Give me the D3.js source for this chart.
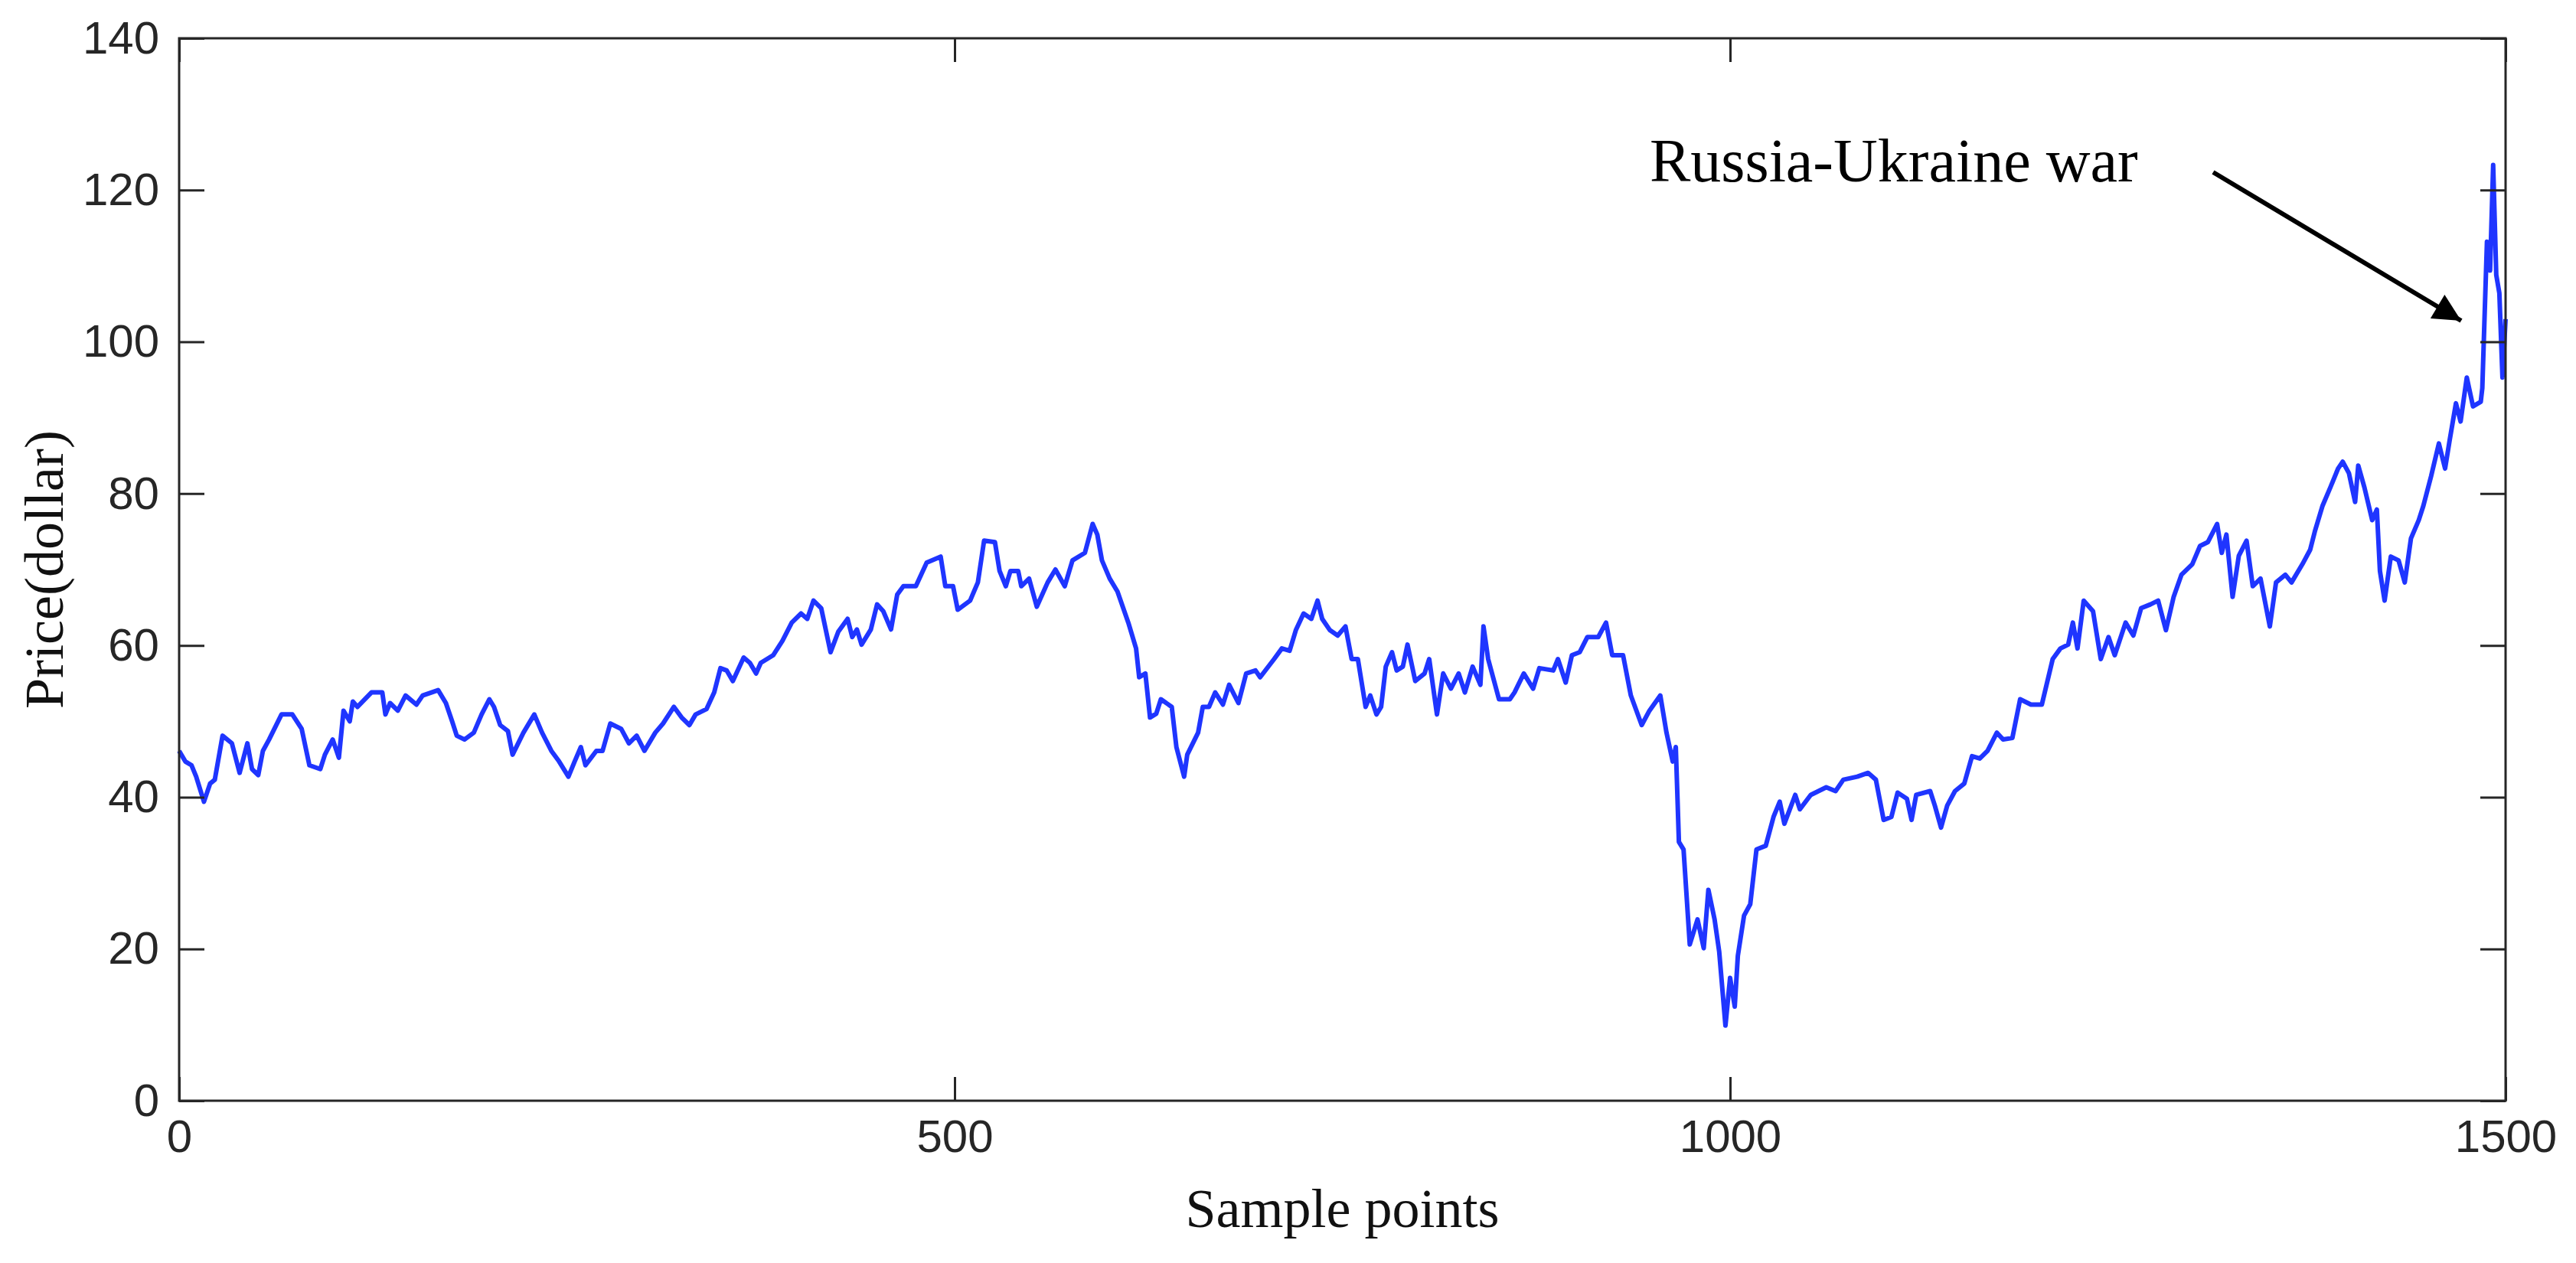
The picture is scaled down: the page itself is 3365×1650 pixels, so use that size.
<!DOCTYPE html>
<html><head><meta charset="utf-8">
<script src="https://cdn.jsdelivr.net/npm/d3@7"></script>
<style>body{margin:0;background:#fff}</style></head>
<body><svg id="c" width="3365" height="1650"></svg>
<script>
const sampleIdx=[0,4,8,11,16,20,23,28,34,39,44,47,51,54,58,66,73,79,84,91,94,99,103,106,110,112,115,124,131,133,136,141,146,153,157,167,172,176,179,184,190,195,200,203,207,212,215,222,229,234,240,245,251,255,259,262,269,273,278,285,290,295,300,307,312,319,324,329,333,340,345,349,353,357,364,368,372,375,383,389,395,401,405,409,414,420,425,431,434,437,440,446,450,454,459,463,467,475,482,491,494,499,502,510,515,519,526,529,533,536,541,543,548,553,560,565,571,576,584,589,592,595,600,605,612,617,619,623,626,630,633,640,643,648,650,657,660,664,668,673,677,683,688,694,697,706,711,716,720,725,730,734,737,742,747,752,756,760,765,768,772,775,778,782,785,789,792,797,803,806,811,815,820,825,829,834,839,841,844,851,858,861,867,873,877,886,889,894,898,903,908,915,920,924,931,936,943,948,955,959,963,965,967,970,974,979,983,986,990,993,997,1000,1003,1005,1009,1013,1017,1023,1028,1032,1035,1042,1045,1052,1062,1068,1073,1082,1089,1094,1099,1104,1108,1114,1117,1120,1129,1132,1136,1140,1145,1151,1156,1161,1166,1172,1176,1182,1187,1194,1201,1208,1213,1218,1221,1224,1228,1234,1239,1244,1248,1255,1260,1265,1271,1276,1281,1286,1291,1298,1303,1308,1314,1317,1320,1324,1328,1333,1337,1342,1348,1352,1358,1362,1369,1374,1377,1382,1387,1392,1395,1399,1403,1405,1409,1414,1417,1419,1422,1426,1431,1435,1439,1444,1447,1452,1457,1461,1464,1468,1471,1475,1479,1484,1485,1488,1490,1492,1494,1496,1498,1500];
const price=[46.1,44.7,44.2,42.7,39.4,41.8,42.3,48.1,47.1,43.2,47.1,43.7,42.9,46.1,47.6,50.9,50.9,49.0,44.2,43.7,45.6,47.6,45.2,51.4,50.0,52.6,51.9,53.8,53.8,50.9,52.4,51.4,53.4,52.2,53.4,54.1,52.4,50.0,48.1,47.6,48.5,50.9,52.9,51.9,49.5,48.7,45.6,48.5,50.9,48.5,46.1,44.7,42.7,44.7,46.6,44.2,46.1,46.1,49.7,49.0,47.1,48.1,46.1,48.5,49.7,51.9,50.5,49.5,50.9,51.6,53.8,57.0,56.7,55.3,58.4,57.7,56.3,57.7,58.7,60.6,63.0,64.2,63.5,65.9,64.9,59.1,61.8,63.5,61.1,62.1,60.1,62.1,65.4,64.5,62.1,66.7,67.8,67.8,70.9,71.7,67.8,67.8,64.7,65.9,68.3,73.8,73.6,69.8,67.8,69.8,69.8,67.8,68.8,65.1,68.3,70.0,67.8,71.2,72.2,76.0,74.6,71.2,68.8,67.1,63.0,59.6,55.8,56.3,50.5,51.0,52.9,51.9,46.6,42.7,45.6,48.5,51.9,51.9,53.8,52.2,54.8,52.4,56.3,56.7,55.8,58.2,59.6,59.3,62.0,64.2,63.5,65.9,63.5,62.0,61.3,62.5,58.2,58.2,51.9,53.4,50.9,51.9,57.2,59.1,56.7,57.2,60.1,55.3,56.3,58.2,50.9,56.3,54.3,56.3,53.8,57.2,54.8,62.5,58.2,52.9,52.9,53.8,56.3,54.3,57.0,56.7,58.2,55.1,58.7,59.1,61.1,61.1,63.0,58.7,58.7,53.4,49.5,51.4,53.4,48.5,44.7,46.6,34.1,33.1,20.6,23.9,20.1,27.8,23.9,19.6,9.9,16.2,12.4,19.1,24.4,25.9,33.1,33.6,37.4,39.4,36.5,40.3,38.4,40.3,41.3,40.8,42.3,42.7,43.2,42.3,37.0,37.4,40.6,39.8,37.0,40.3,40.8,38.9,36.0,38.9,40.8,41.8,45.4,45.1,46.1,48.5,47.6,47.8,52.9,52.2,52.2,58.2,59.6,60.1,63.0,59.6,65.9,64.5,58.2,61.1,58.7,63.0,61.3,64.9,65.4,65.9,62.0,66.4,69.3,70.7,73.1,73.6,76.0,72.2,74.6,66.4,71.8,73.8,67.8,68.8,62.5,68.3,69.3,68.3,70.7,72.6,75.0,78.4,80.8,83.3,84.2,82.7,78.9,83.7,80.8,76.5,77.9,69.8,65.9,71.7,71.2,68.3,74.1,76.5,78.4,82.3,86.6,83.3,87.1,91.9,89.5,95.3,91.5,92.1,93.9,113.2,109.4,123.3,108.8,106.4,95.3,103.0];
const xTicks=[0,500,1000,1500];
const yTicks=[0,20,40,60,80,100,120,140];
const annotation="Russia-Ukraine war";

const L=234,R=3273,T=50,B=1438;
const svg=d3.select("#c");
const x=d3.scaleLinear().domain([0,1500]).range([L,R]);
const y=d3.scaleLinear().domain([0,140]).range([B,T]);
const ax="#262626";
const line=d3.line().x((d,i)=>x(sampleIdx[i])).y(d=>y(d));
svg.append("path").datum(price).attr("d",line).attr("fill","none").attr("stroke","#1f35ff").attr("stroke-width",6).attr("stroke-linejoin","round");
svg.append("rect").attr("x",L).attr("y",T).attr("width",R-L).attr("height",B-T).attr("fill","none").attr("stroke",ax).attr("stroke-width",3);
const fx=g=>{g.selectAll("text").attr("font-family","Arial, Liberation Sans").attr("font-size",60).attr("fill",ax);g.select(".domain").remove();g.selectAll("line").attr("stroke",ax).attr("stroke-width",3);};
svg.append("g").attr("transform",`translate(0,${B})`).call(d3.axisBottom(x).tickValues(xTicks).tickFormat(d3.format("d")).tickSizeInner(-31).tickSizeOuter(0).tickPadding(24)).call(fx);
svg.append("g").attr("transform",`translate(0,${T})`).call(d3.axisTop(x).tickValues(xTicks).tickSizeInner(-31).tickSizeOuter(0).tickFormat("")).call(fx);
svg.append("g").attr("transform",`translate(${L},0)`).call(d3.axisLeft(y).tickValues(yTicks).tickSizeInner(-33).tickSizeOuter(0).tickPadding(26)).call(fx);
svg.append("g").attr("transform",`translate(${R},0)`).call(d3.axisRight(y).tickValues(yTicks).tickSizeInner(-33).tickSizeOuter(0).tickFormat("")).call(fx);
svg.append("text").attr("x",(L+R)/2).attr("y",1603).attr("text-anchor","middle").attr("font-family","Liberation Serif, Times New Roman").attr("font-size",72).attr("fill","#111").text("Sample points");
svg.append("text").attr("transform",`translate(82,${(T+B)/2}) rotate(-90)`).attr("text-anchor","middle").attr("font-family","Liberation Serif, Times New Roman").attr("font-size",72).attr("fill","#111").text("Price(dollar)");
svg.append("text").attr("x",2155).attr("y",237).attr("font-family","Liberation Serif, Times New Roman").attr("font-size",80).attr("fill","#000").text(annotation);
svg.append("defs").append("marker").attr("id","ah").attr("viewBox","0 0 10 10").attr("refX",10).attr("refY",5).attr("markerWidth",8).attr("markerHeight",6).attr("orient","auto").attr("markerUnits","strokeWidth").append("path").attr("d","M0,0L10,5L0,10z").attr("fill","#000");
svg.append("line").attr("x1",2891).attr("y1",225).attr("x2",3215).attr("y2",419).attr("stroke","#000").attr("stroke-width",6).attr("marker-end","url(#ah)");
</script></body></html>
